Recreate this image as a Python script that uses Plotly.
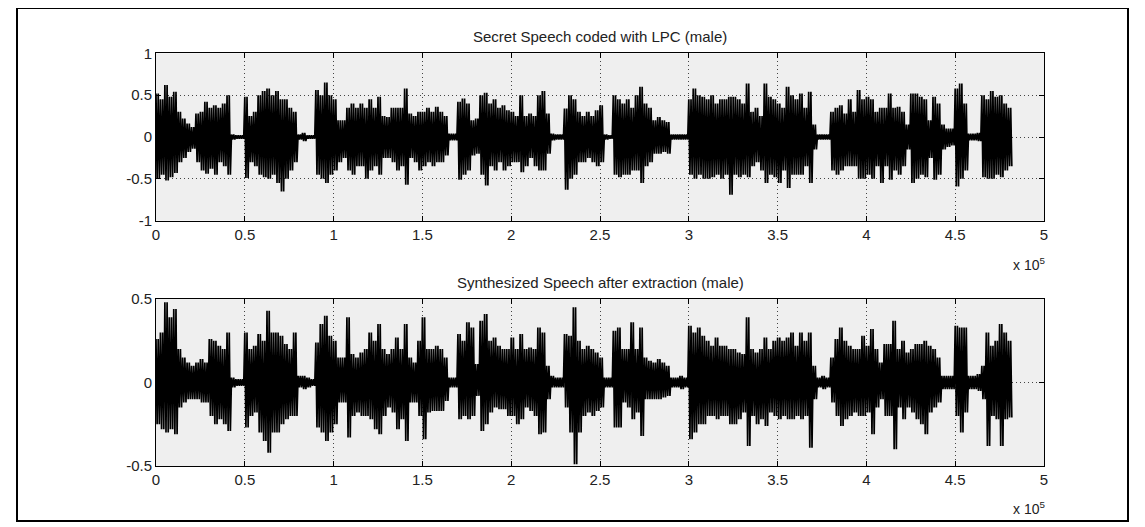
import plotly.graph_objects as go

# ---------------- data (envelope of each waveform) ----------------
STEP = 2500  # samples per envelope column

top_upper = [0.52, 0.45, 0.62, 0.48, 0.54, 0.30, 0.22, 0.16, 0.12, 0.28,
             0.30, 0.42, 0.35, 0.38, 0.35, 0.40, 0.50, 0.03, 0.02, 0.02,
             0.48, 0.25, 0.30, 0.50, 0.55, 0.58, 0.50, 0.55, 0.45, 0.45,
             0.35, 0.30, 0.03, 0.05, 0.02, 0.02, 0.56, 0.50, 0.65, 0.50,
             0.45, 0.20, 0.20, 0.35, 0.40, 0.35, 0.40, 0.35, 0.45, 0.35,
             0.48, 0.25, 0.24, 0.35, 0.35, 0.35, 0.58, 0.28, 0.25, 0.30,
             0.30, 0.35, 0.30, 0.36, 0.30, 0.25, 0.04, 0.04, 0.42, 0.46,
             0.40, 0.20, 0.22, 0.50, 0.53, 0.40, 0.45, 0.35, 0.38, 0.32,
             0.30, 0.25, 0.50, 0.25, 0.28, 0.25, 0.50, 0.55, 0.28, 0.04,
             0.03, 0.03, 0.34, 0.50, 0.45, 0.30, 0.25, 0.30, 0.25, 0.32,
             0.38, 0.03, 0.02, 0.50, 0.45, 0.40, 0.45, 0.35, 0.50, 0.60,
             0.40, 0.35, 0.20, 0.24, 0.20, 0.18, 0.03, 0.03, 0.03, 0.03,
             0.45, 0.58, 0.50, 0.48, 0.45, 0.50, 0.40, 0.45, 0.45, 0.48,
             0.48, 0.45, 0.40, 0.64, 0.30, 0.35, 0.25, 0.64, 0.48, 0.45,
             0.40, 0.35, 0.60, 0.50, 0.45, 0.52, 0.35, 0.54, 0.15, 0.03,
             0.03, 0.03, 0.30, 0.35, 0.38, 0.28, 0.45, 0.30, 0.56, 0.45,
             0.48, 0.45, 0.30, 0.35, 0.35, 0.52, 0.35, 0.36, 0.30, 0.15,
             0.52, 0.52, 0.48, 0.45, 0.20, 0.48, 0.40, 0.15, 0.10, 0.10,
             0.58, 0.64, 0.40, 0.04, 0.04, 0.05, 0.50, 0.45, 0.55, 0.48,
             0.50, 0.40, 0.35]

top_lower = [-0.50, -0.45, -0.52, -0.48, -0.43, -0.30, -0.25, -0.18, -0.14, -0.30,
             -0.40, -0.44, -0.38, -0.45, -0.30, -0.35, -0.45, -0.03, -0.02, -0.02,
             -0.49, -0.30, -0.35, -0.45, -0.48, -0.50, -0.45, -0.55, -0.65, -0.50,
             -0.40, -0.30, -0.03, -0.05, -0.02, -0.02, -0.45, -0.50, -0.55, -0.45,
             -0.40, -0.30, -0.25, -0.40, -0.45, -0.35, -0.35, -0.50, -0.40, -0.35,
             -0.45, -0.25, -0.25, -0.30, -0.40, -0.35, -0.57, -0.25, -0.30, -0.40,
             -0.35, -0.30, -0.35, -0.30, -0.30, -0.22, -0.04, -0.04, -0.51, -0.45,
             -0.40, -0.22, -0.20, -0.45, -0.58, -0.35, -0.40, -0.30, -0.40, -0.35,
             -0.30, -0.30, -0.42, -0.35, -0.25, -0.35, -0.40, -0.40, -0.20, -0.04,
             -0.03, -0.03, -0.63, -0.50, -0.45, -0.30, -0.30, -0.25, -0.30, -0.35,
             -0.30, -0.03, -0.02, -0.45, -0.48, -0.45, -0.45, -0.40, -0.40, -0.55,
             -0.35, -0.30, -0.20, -0.20, -0.18, -0.20, -0.03, -0.03, -0.03, -0.03,
             -0.45, -0.50, -0.45, -0.50, -0.50, -0.48, -0.45, -0.50, -0.45, -0.69,
             -0.45, -0.48, -0.45, -0.48, -0.35, -0.30, -0.40, -0.55, -0.45, -0.48,
             -0.55, -0.40, -0.61, -0.45, -0.45, -0.45, -0.35, -0.55, -0.15, -0.03,
             -0.03, -0.03, -0.40, -0.45, -0.40, -0.35, -0.35, -0.35, -0.50, -0.50,
             -0.45, -0.50, -0.35, -0.55, -0.35, -0.51, -0.40, -0.45, -0.35, -0.15,
             -0.55, -0.50, -0.45, -0.48, -0.25, -0.51, -0.45, -0.15, -0.12, -0.10,
             -0.59, -0.50, -0.40, -0.04, -0.04, -0.05, -0.48, -0.50, -0.50, -0.45,
             -0.48, -0.40, -0.35]

bot_upper = [0.26, 0.30, 0.48, 0.39, 0.44, 0.20, 0.15, 0.12, 0.10, 0.12,
             0.14, 0.12, 0.26, 0.25, 0.22, 0.20, 0.30, 0.03, 0.02, 0.02,
             0.30, 0.20, 0.22, 0.29, 0.25, 0.43, 0.30, 0.30, 0.28, 0.23,
             0.20, 0.30, 0.04, 0.04, 0.03, 0.02, 0.24, 0.35, 0.40, 0.28,
             0.25, 0.15, 0.15, 0.39, 0.17, 0.15, 0.18, 0.20, 0.30, 0.25,
             0.35, 0.20, 0.17, 0.20, 0.27, 0.20, 0.35, 0.15, 0.12, 0.25,
             0.39, 0.20, 0.20, 0.22, 0.20, 0.15, 0.03, 0.03, 0.29, 0.25,
             0.36, 0.33, 0.11, 0.37, 0.41, 0.25, 0.27, 0.22, 0.20, 0.20,
             0.27, 0.20, 0.29, 0.20, 0.21, 0.20, 0.33, 0.30, 0.10, 0.04,
             0.03, 0.03, 0.29, 0.28, 0.45, 0.25, 0.20, 0.22, 0.20, 0.18,
             0.15, 0.03, 0.03, 0.31, 0.33, 0.20, 0.20, 0.36, 0.20, 0.33,
             0.15, 0.13, 0.12, 0.14, 0.12, 0.10, 0.03, 0.03, 0.04, 0.03,
             0.34, 0.30, 0.33, 0.28, 0.25, 0.22, 0.27, 0.22, 0.22, 0.20,
             0.20, 0.18, 0.17, 0.39, 0.20, 0.18, 0.20, 0.27, 0.20, 0.25,
             0.27, 0.25, 0.27, 0.30, 0.22, 0.30, 0.25, 0.30, 0.10, 0.03,
             0.04, 0.03, 0.15, 0.26, 0.33, 0.25, 0.22, 0.20, 0.20, 0.28,
             0.22, 0.32, 0.20, 0.12, 0.23, 0.23, 0.37, 0.20, 0.25, 0.18,
             0.20, 0.23, 0.23, 0.25, 0.22, 0.20, 0.15, 0.04, 0.04, 0.04,
             0.34, 0.33, 0.33, 0.04, 0.04, 0.05, 0.10, 0.30, 0.22, 0.25,
             0.35, 0.30, 0.25]

bot_lower = [-0.25, -0.28, -0.30, -0.28, -0.31, -0.15, -0.12, -0.10, -0.10, -0.10,
             -0.12, -0.12, -0.20, -0.25, -0.22, -0.25, -0.29, -0.03, -0.02, -0.02,
             -0.27, -0.20, -0.18, -0.30, -0.35, -0.42, -0.30, -0.30, -0.25, -0.22,
             -0.20, -0.20, -0.03, -0.04, -0.03, -0.02, -0.27, -0.30, -0.35, -0.30,
             -0.25, -0.12, -0.12, -0.33, -0.20, -0.18, -0.20, -0.20, -0.22, -0.28,
             -0.31, -0.20, -0.15, -0.18, -0.28, -0.22, -0.35, -0.12, -0.12, -0.20,
             -0.34, -0.18, -0.17, -0.17, -0.17, -0.11, -0.03, -0.03, -0.22, -0.20,
             -0.22, -0.20, -0.08, -0.29, -0.25, -0.18, -0.15, -0.16, -0.16, -0.20,
             -0.20, -0.25, -0.22, -0.15, -0.17, -0.20, -0.31, -0.30, -0.10, -0.03,
             -0.03, -0.03, -0.15, -0.30, -0.49, -0.30, -0.20, -0.18, -0.20, -0.17,
             -0.15, -0.03, -0.03, -0.27, -0.27, -0.12, -0.15, -0.22, -0.18, -0.32,
             -0.10, -0.10, -0.10, -0.10, -0.09, -0.08, -0.03, -0.03, -0.04, -0.03,
             -0.34, -0.30, -0.25, -0.25, -0.20, -0.20, -0.22, -0.20, -0.20, -0.25,
             -0.25, -0.22, -0.18, -0.38, -0.20, -0.25, -0.22, -0.26, -0.18, -0.20,
             -0.22, -0.20, -0.22, -0.22, -0.20, -0.22, -0.20, -0.39, -0.10, -0.03,
             -0.04, -0.03, -0.12, -0.20, -0.26, -0.22, -0.20, -0.18, -0.20, -0.20,
             -0.18, -0.31, -0.15, -0.10, -0.20, -0.20, -0.40, -0.15, -0.22, -0.15,
             -0.18, -0.22, -0.25, -0.31, -0.18, -0.15, -0.12, -0.04, -0.04, -0.04,
             -0.20, -0.30, -0.18, -0.04, -0.04, -0.05, -0.10, -0.38, -0.20, -0.22,
             -0.38, -0.22, -0.21]

x_tick_vals = [0, 50000, 100000, 150000, 200000, 250000, 300000, 350000, 400000, 450000, 500000]
x_tick_text = ["0", "0.5", "1", "1.5", "2", "2.5", "3", "3.5", "4", "4.5", "5"]
top_y_ticks = [-1, -0.5, 0, 0.5, 1]
top_y_text = ["-1", "-0.5", "0", "0.5", "1"]
bot_y_ticks = [-0.5, 0, 0.5]
bot_y_text = ["-0.5", "0", "0.5"]
titles = ["Secret Speech coded with LPC (male)", "Synthesized Speech after extraction (male)"]
exponent_label = "x 10<sup>5</sup>"

# ---------------- layout helpers ----------------
# The page body adds an 8px margin, so the figure is sized to the window minus it
# and every target pixel position is shifted by that offset.
OFF = 8
W, H = 1145 - OFF, 527 - OFF
def fx(p):
    return (p - OFF) / W
def fy(p):
    return 1 - (p - OFF) / H

FONT = "Liberation Sans, Arial, Helvetica, sans-serif"
TXT = "#222222"


def zigzag(upper, lower, step, swings=2):
    """Swing between each column's positive and negative peak, as a waveform trace."""
    xs, ys = [], []
    sub = step / (2 * swings)
    for i, (u, l) in enumerate(zip(upper, lower)):
        for k in range(swings):
            xs.extend([i * step + 2 * k * sub, i * step + (2 * k + 1) * sub])
            ys.extend([u, l])
    return xs, ys


fig = go.Figure()
for up, lo, xa, ya in [(top_upper, top_lower, "x", "y"), (bot_upper, bot_lower, "x2", "y2")]:
    xs, ys = zigzag(up, lo, STEP)
    fig.add_trace(go.Scatter(
        x=xs, y=ys, mode="lines",
        line=dict(color="black", width=1.7, simplify=False),
        xaxis=xa, yaxis=ya, hoverinfo="skip", showlegend=False))

axis_common = dict(
    showline=True, linecolor="black", linewidth=1, mirror="ticks",
    ticks="inside", ticklen=5, tickcolor="black", tickwidth=1,
    showgrid=True, gridcolor="#444444", griddash="1px,3px", gridwidth=1,
    zeroline=False, tickfont=dict(family=FONT, size=15, color=TXT),
    fixedrange=True, automargin=False,
)

x_dom = [fx(156), fx(1044)]
fig.update_layout(
    width=W, height=H,
    margin=dict(l=0, r=0, t=0, b=0, autoexpand=False),
    paper_bgcolor="white", plot_bgcolor="#efefef",
    xaxis=dict(domain=x_dom, anchor="y", range=[0, 500000],
               tickvals=x_tick_vals, ticktext=x_tick_text, **axis_common),
    yaxis=dict(domain=[fy(220.7), fy(53.3)], anchor="x", range=[-1, 1],
               tickvals=top_y_ticks, ticktext=top_y_text, **axis_common),
    xaxis2=dict(domain=x_dom, anchor="y2", range=[0, 500000],
                tickvals=x_tick_vals, ticktext=x_tick_text, **axis_common),
    yaxis2=dict(domain=[fy(466), fy(299)], anchor="x2", range=[-0.5, 0.5],
                tickvals=bot_y_ticks, ticktext=bot_y_text, **axis_common),
    font=dict(family=FONT, color=TXT),
)

annotations = [
    dict(text=titles[0], x=fx(600), y=fy(36)),
    dict(text=titles[1], x=fx(600), y=fy(282)),
]
fig.update_layout(annotations=[
    dict(text=a["text"], x=a["x"], y=a["y"], xref="paper", yref="paper",
         xanchor="center", yanchor="middle", showarrow=False,
         font=dict(family=FONT, size=15, color=TXT)) for a in annotations
] + [
    dict(text=exponent_label, x=fx(1047), y=fy(264), xref="paper", yref="paper",
         xanchor="right", yanchor="middle", showarrow=False,
         font=dict(family=FONT, size=14, color=TXT)),
    dict(text=exponent_label, x=fx(1047), y=fy(508), xref="paper", yref="paper",
         xanchor="right", yanchor="middle", showarrow=False,
         font=dict(family=FONT, size=14, color=TXT)),
])

# outer frame around the whole figure
fig.add_shape(type="rect", xref="paper", yref="paper",
              x0=fx(17), x1=fx(1128), y0=fy(521), y1=fy(8),
              line=dict(color="black", width=2), fillcolor="rgba(0,0,0,0)")

fig.write_html("out.html")
